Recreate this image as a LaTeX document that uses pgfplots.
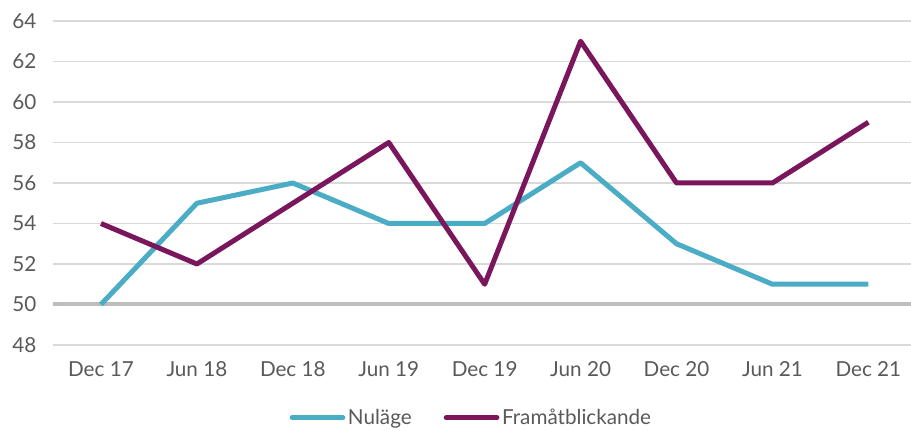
\documentclass[border=0pt]{standalone}
\usepackage{pgfplots}
\pgfplotsset{compat=1.18}
\usepackage{fontspec}
\setmainfont{Lato}
\definecolor{teal1}{RGB}{75,172,198}
\definecolor{purp1}{RGB}{122,22,92}
\definecolor{txt}{RGB}{89,89,89}
\definecolor{gridc}{RGB}{217,217,217}
\definecolor{refc}{RGB}{191,189,186}
\begin{document}
\begin{tikzpicture}[x=1pt,y=1pt]
\useasboundingbox (-39.75pt,-64.5pt) rectangle (643.5pt,258.75pt);
\begin{axis}[
  scale only axis,
  width=647.5pt, height=243pt,
  at={(0,0)}, anchor=south west,
  xmin=-0.5, xmax=8.5, ymin=48, ymax=64,
  xtick={0,...,8},
  xticklabels={Dec 17,Jun 18,Dec 18,Jun 19,Dec 19,Jun 20,Dec 20,Jun 21,Dec 21},
  ytick={48,50,...,64},
  ymajorgrids, grid style={gridc, line width=0.9pt},
  axis line style={draw=none},
  major tick length=0pt,
  tick label style={font=\fontsize{15.5}{18}\selectfont, text=txt},
  /pgf/number format/assume math mode=true,
  xticklabel style={yshift=-9pt},
  yticklabel style={xshift=-9pt},
  legend style={at={(0.485,-0.18)}, anchor=north, draw=none, legend columns=2, fill=none,
    font=\fontsize{15.5}{18}\selectfont, text=txt, /tikz/every even column/.append style={column sep=22pt}},
  legend image code/.code={\draw[#1, line width=3.75pt, line cap=round] (0pt,0pt) -- (38pt,0pt);},
  clip=false,
]
\addplot[refc, line width=3pt, forget plot] coordinates {(-0.5,50) (8.5,50)};
\addplot[teal1, line width=3.75pt, line join=round] coordinates {
(0,50) (1,55) (2,56) (3,54) (4,54) (5,57) (6,53) (7,51) (8,51)};
\addlegendentry{Nuläge}
\addplot[purp1, line width=3.75pt, line join=round] coordinates {
(0,54) (1,52) (2,55) (3,58) (4,51) (5,63) (6,56) (7,56) (8,59)};
\addlegendentry{Framåtblickande}
\end{axis}
\end{tikzpicture}
\end{document}
